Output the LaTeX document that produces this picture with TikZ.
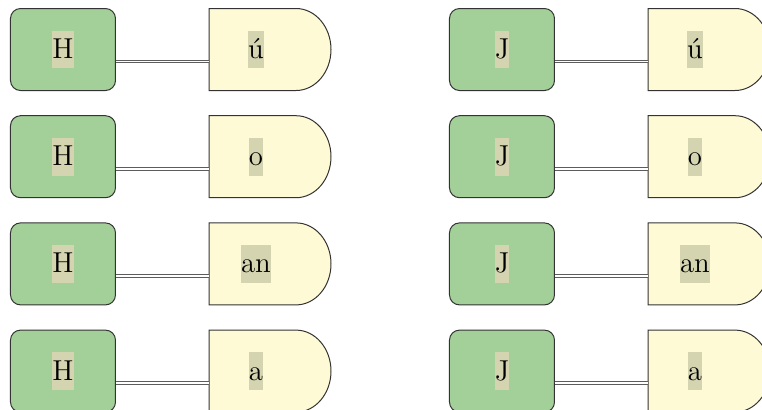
\documentclass[tikz,border=0pt]{standalone}
\usepackage{fontspec}
\usepackage{tikz}
\usetikzlibrary{matrix}
\usetikzlibrary{backgrounds}
\definecolor{leafgreen}{HTML}{A3CF98}
\definecolor{cream}{HTML}{FFFAD6}
\definecolor{hltan}{HTML}{D4D5B0}
\definecolor{edgegray}{HTML}{333333}
\newcommand{\hltxt}[1]{{\setlength{\fboxsep}{0pt}\colorbox{hltan}{\rule[-4.9pt]{0pt}{18.8pt}#1}}}
\tikzset{
	greenbox/.style={draw=edgegray, line width=0.5pt, fill=leafgreen, rounded corners=5pt, minimum width=52.5pt, minimum height=41pt, outer sep=0pt, font=\Large},
	yellowbox/.style={minimum width=61pt, minimum height=41pt, outer sep=0pt, font=\Large, execute at end node={\hspace{14pt}}},
	dshape/.style={draw=edgegray, line width=0.5pt, fill=cream},
	wire/.style={draw=edgegray!80, double=white, double distance=0.8pt, line width=0.5pt}
}
\begin{document}
\begin{tikzpicture}
			\useasboundingbox (0,0) rectangle (381pt,-204.5pt);
			\matrix [matrix of nodes, anchor=north west, inner sep=0pt, outer sep=0pt, column sep=46.5pt, row sep=12.1pt,
				column 1/.style={nodes=greenbox}, column 2/.style={nodes=yellowbox},
				column 3/.style={nodes=greenbox}, column 4/.style={nodes=yellowbox}] (m) at (5pt,-4pt) {
				\hltxt{H} & \hltxt{ú} &[12.5pt] \hltxt{J} & \hltxt{ú} \\
				\hltxt{H} & \hltxt{o} &[12.5pt] \hltxt{J} & \hltxt{o} \\
				\hltxt{H} & \hltxt{an} &[12.5pt] \hltxt{J} & \hltxt{an} \\
				\hltxt{H} & \hltxt{a} &[12.5pt] \hltxt{J} & \hltxt{a} \\
			};
			\begin{scope}[on background layer]
				\foreach \r in {1,...,4}
					\foreach \c in {2,4}
						\draw[dshape] (m-\r-\c.north west) -- ([xshift=-17.5pt]m-\r-\c.north east) arc[start angle=90, end angle=-90, x radius=17.5pt, y radius=20.5pt] -- (m-\r-\c.south west) -- cycle;
			\end{scope}
			\foreach \r in {1,...,4} {
				\draw[wire] ([yshift=-6pt]m-\r-1.east) -- ([yshift=-6pt]m-\r-2.west);
				\draw[wire] ([yshift=-6pt]m-\r-3.east) -- ([yshift=-6pt]m-\r-4.west);
			}
		\end{tikzpicture}
\end{document}
